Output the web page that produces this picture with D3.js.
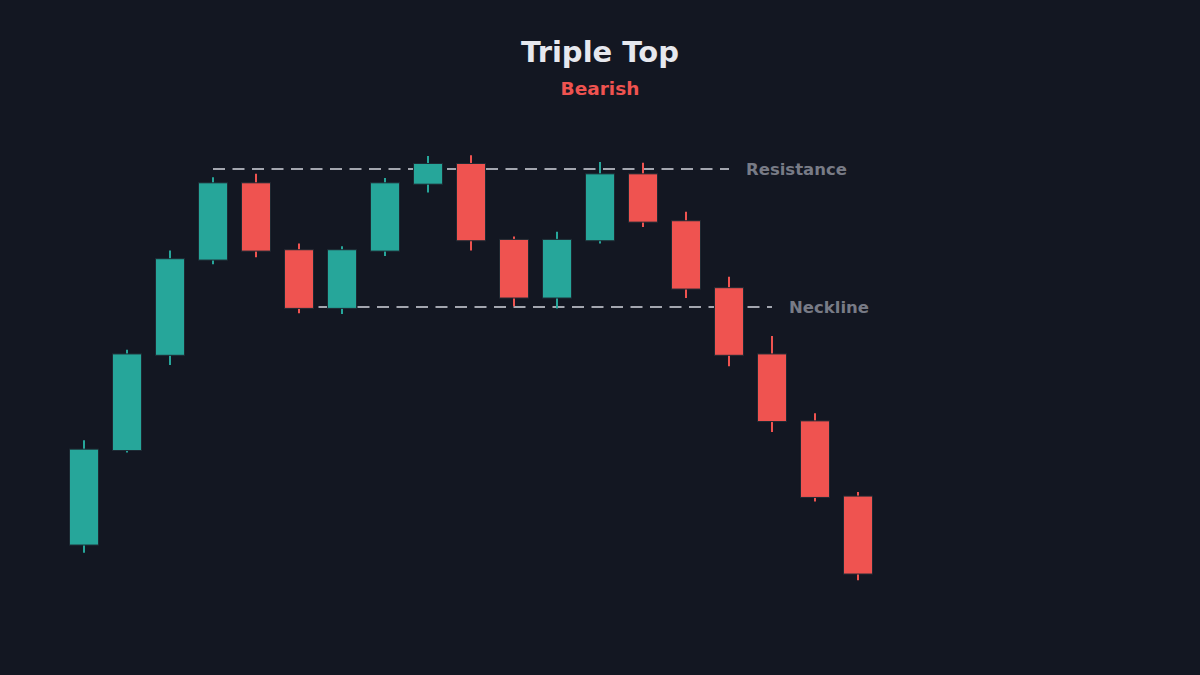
<!DOCTYPE html>
<html>
<head>
<meta charset="utf-8">
<script src="https://cdn.jsdelivr.net/npm/d3@7"></script>
<style>
  html, body { margin: 0; padding: 0; background: #131722; }
  svg { display: block; }
</style>
</head>
<body>
<svg id="chart" width="1200" height="675"></svg>
<script>
// candle values (neckline = 100, resistance = 110)
var opens  = [82.75, 89.6, 96.5, 103.4, 109.0, 104.15, 99.9, 104.05, 108.9, 110.4, 104.9, 100.65, 104.8, 109.65, 106.25, 101.4, 96.6, 91.75, 86.3];
var closes = [89.7, 96.6, 103.5, 109.0, 104.05, 99.9, 104.15, 109.0, 110.4, 104.8, 100.65, 104.9, 109.65, 106.15, 101.3, 96.5, 91.7, 86.2, 80.65];
var highs  = [90.35, 96.9, 104.1, 109.4, 109.65, 104.6, 104.4, 109.35, 110.95, 111.0, 105.1, 105.45, 110.5, 110.45, 106.9, 102.2, 97.9, 92.3, 86.6];
var lows   = [82.2, 89.45, 95.8, 103.1, 103.6, 99.55, 99.5, 103.7, 108.3, 104.1, 100.05, 99.9, 104.6, 105.8, 100.65, 95.7, 90.95, 85.9, 80.2];

// horizontal levels: [label, price, first candle, last candle]
var levelNames  = ["Resistance", "Neckline"];
var levelPrices = [110, 100];
var levelFrom   = [3, 5];
var levelTo     = [15, 16];

var W = 1200, H = 675;
var bg = "#131722", up = "#26a69a", down = "#ef5350";

var svg = d3.select("#chart");
svg.append("rect").attr("width", W).attr("height", H).attr("fill", bg);

var x = d3.scalePoint()
    .domain(d3.range(opens.length))
    .range([84, 858]);
var y = d3.scaleLinear()
    .domain([80, 115])
    .range([583, 100]);

var bodyW = x.step() * 0.675;

var candles = opens.map(function(o, i) {
    return {i: i, o: o, c: closes[i], h: highs[i], l: lows[i]};
});

// level lines + labels
levelNames.forEach(function(name, k) {
    var yy = y(levelPrices[k]);
    svg.append("line")
        .attr("x1", x(levelFrom[k]))
        .attr("x2", x(levelTo[k]))
        .attr("y1", yy).attr("y2", yy)
        .attr("stroke", "#a3a6af")
        .attr("stroke-width", 2)
        .attr("stroke-dasharray", "12,7.5");
    svg.append("text")
        .attr("x", x(levelTo[k]) + 17)
        .attr("y", yy)
        .attr("dy", "0.36em")
        .attr("fill", "#787b86")
        .attr("font-family", "DejaVu Sans")
        .attr("font-weight", "bold")
        .attr("font-size", 16.5)
        .text(name);
});

var g = svg.append("g").selectAll("g.candle")
    .data(candles)
    .enter().append("g")
    .attr("class", "candle");

g.append("line")
    .attr("x1", function(d) { return x(d.i); })
    .attr("x2", function(d) { return x(d.i); })
    .attr("y1", function(d) { return y(d.h); })
    .attr("y2", function(d) { return y(d.l); })
    .attr("stroke", function(d) { return d.c >= d.o ? up : down; })
    .attr("stroke-width", 2);

g.append("rect")
    .attr("x", function(d) { return x(d.i) - bodyW / 2; })
    .attr("y", function(d) { return y(Math.max(d.o, d.c)); })
    .attr("width", bodyW)
    .attr("height", function(d) { return Math.abs(y(d.o) - y(d.c)); })
    .attr("fill", function(d) { return d.c >= d.o ? up : down; })
    .attr("stroke", "#1e2a33")
    .attr("stroke-width", 1);

// titles
svg.append("text")
    .attr("x", W / 2).attr("y", 62)
    .attr("text-anchor", "middle")
    .attr("fill", "#e6e8ee")
    .attr("font-family", "DejaVu Sans")
    .attr("font-weight", "bold")
    .attr("font-size", 29)
    .text("Triple Top");

svg.append("text")
    .attr("x", W / 2).attr("y", 95)
    .attr("text-anchor", "middle")
    .attr("fill", down)
    .attr("font-family", "DejaVu Sans")
    .attr("font-weight", "bold")
    .attr("font-size", 18.5)
    .text("Bearish");
</script>
</body>
</html>
